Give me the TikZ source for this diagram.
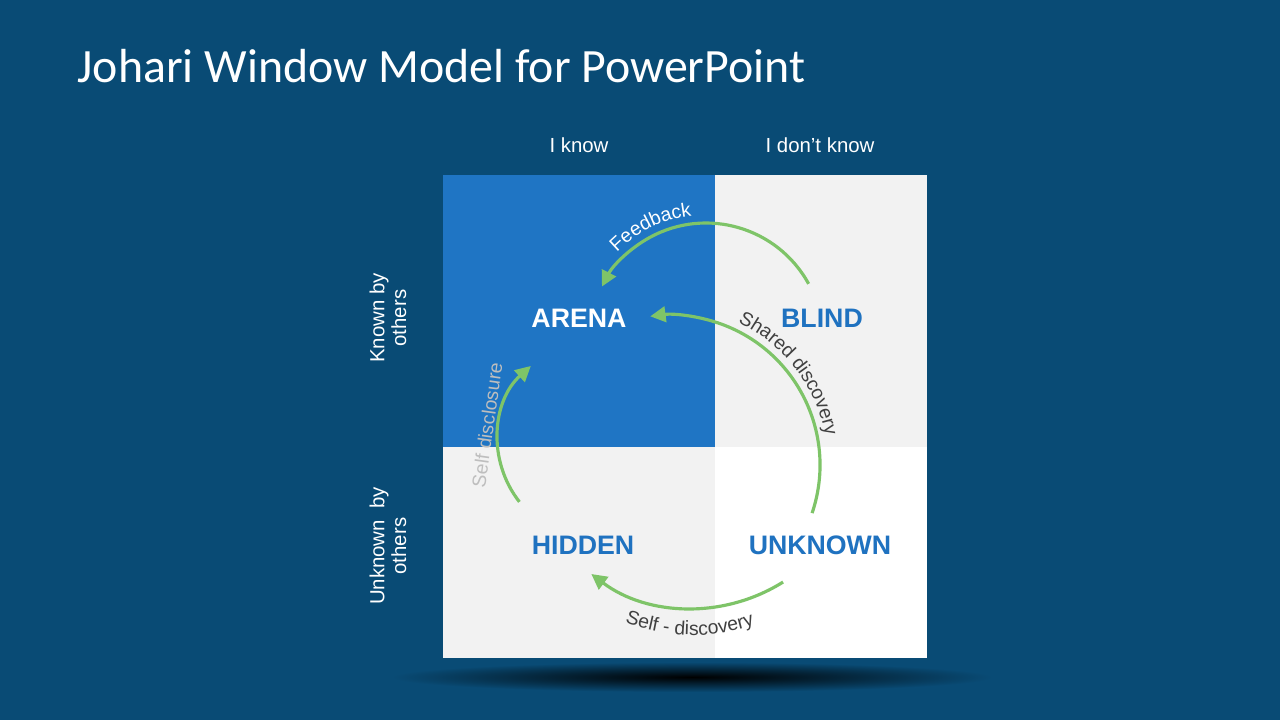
\documentclass[tikz,border=0pt]{standalone}
\usepackage{fontspec}
\setmainfont{Liberation Sans}
\newfontfamily\titlefont{Carlito}
\usetikzlibrary{positioning}
\usetikzlibrary{arrows.meta}
\usetikzlibrary{decorations.text}

\definecolor{slidebg}{RGB}{9,75,117}
\definecolor{arenablue}{RGB}{31,117,196}
\definecolor{cellgray}{RGB}{242,242,242}
\definecolor{flowgreen}{RGB}{126,196,104}
\definecolor{quadblue}{RGB}{31,114,192}
\definecolor{darktext}{RGB}{64,64,64}
\definecolor{lighttext}{RGB}{190,190,190}

\newcommand\arclabelfont{\fontsize{5.5}{6.5}\selectfont}

\begin{document}
\begin{tikzpicture}[x=0.01cm, y=-0.01cm]
  % \draw (0,0) grid (1280,720);

  \tikzset{label common/.style={inner sep=0pt, anchor=center}}
  \tikzset{quad label/.style={label common, font=\fontsize{7.6}{9}\selectfont\bfseries, text=quadblue}}
  \tikzset{axis label/.style={label common, text=white, align=center, font=\fontsize{5.8}{6.2}\selectfont}}
  \tikzset{flow/.style={draw=flowgreen, line width=0.9pt, -{Triangle[length=4.4pt,width=4.4pt]}}}

  \fill[slidebg] (0,0) rectangle (1280,720);
  \useasboundingbox (0,0) rectangle (1280,720);

  % shadow under the window
  \shade[inner color=black, outer color=slidebg] (692,677) ellipse [x radius=300, y radius=15];

  \node[anchor=base west, inner sep=0pt, text=white, font=\titlefont\fontsize{13.6}{16}\selectfont] (title) at (77,82) {Johari Window Model for PowerPoint};

  % the four panes
  \fill[arenablue] (443,175) rectangle (715,447);
  \fill[cellgray] (715,175) rectangle (927,447);
  \fill[cellgray] (443,447) rectangle (715,658);
  \fill[white] (715,447) rectangle (927,658);

  \node[axis label] (iknow) at (579,145) {I know};
  \node[axis label] (idontknow) at (820,145) {I don’t know};
  \node[axis label, rotate=90] (known) at (388,318) {Known by\\others};
  \node[axis label, rotate=90] (unknownby) at (388,546) {Unknown\ \ by\\others};

  \node[quad label, text=white] (arena) at (579,318) {ARENA};
  \node[quad label] (blind) at (822,318) {BLIND};
  \node[quad label] (hidden) at (583,545) {HIDDEN};
  \node[quad label] (unknown) at (820,545) {UNKNOWN};

  % arrow centres
  \coordinate (fbc) at (706,340);
  \coordinate (sdc) at (670,465);
  \coordinate (sfc) at (693,439);
  \coordinate (dlc) at (598,440);

  \path (fbc) ++(-28.7:117) coordinate (fbstart);
  \path (sdc) ++(18.7:150) coordinate (sdstart);
  \path (sfc) ++(57.8:169) coordinate (sfstart);
  \path (dlc) ++(141.8:100) coordinate (dlstart);

  \draw[flow] (fbstart) arc[start angle=-28.7, end angle=-152.8, radius=117];
  \draw[flow] (sdstart) arc[start angle=18.7, end angle=-97.6, radius=150];
  \draw[flow] (sfstart) arc[start angle=57.8, end angle=127, radius=169];
  \draw[flow] (dlstart) arc[start angle=141.8, end angle=227.8, radius=100];

  % labels along the arrows
  \path (fbc) ++(-160:125) coordinate (fbtext);
  \path (sdc) ++(-80:158) coordinate (sdtext);
  \path (sfc) ++(130:196) coordinate (sftext);

  \path[decorate, decoration={text along path, text={|\arclabelfont|Feedback}, text color=white, text align=center}]
    (fbtext) arc[start angle=-160, end angle=-72, radius=125];
  \path[decorate, decoration={text along path, text={|\arclabelfont|Shared discovery}, text color=darktext, text align=center}]
    (sdtext) arc[start angle=-80, end angle=5, radius=158];
  \path[decorate, decoration={text along path, text={|\arclabelfont|Self - discovery}, text color=darktext, text align=center}]
    (sftext) arc[start angle=130, end angle=52, radius=196];
  \node[label common, rotate=82, text=lighttext, font=\arclabelfont] (disclosure) at (487,425) {Self disclosure};
\end{tikzpicture}
\end{document}
